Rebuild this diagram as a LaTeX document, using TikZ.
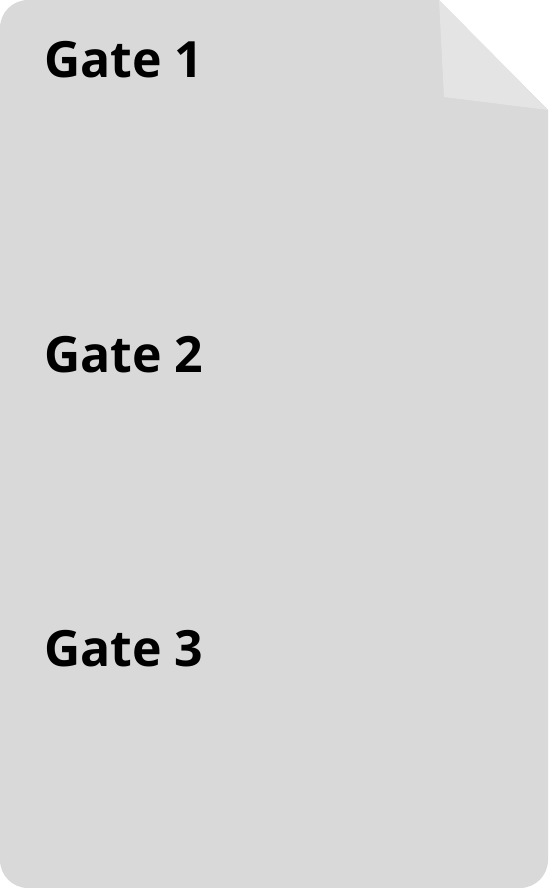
\documentclass[tikz,border=0pt]{standalone}
\usepackage{fontspec}
\setmainfont{Open Sans}
\definecolor{pagefill}{HTML}{D9D9D9}
\definecolor{foldfill}{HTML}{E4E4E4}
\begin{document}
\begin{tikzpicture}[x=1pt,y=-1pt,
  gatelabel/.style={anchor=base west,inner sep=0pt,font=\fontsize{50}{60}\selectfont\bfseries,text=black}]
\useasboundingbox (0,0) rectangle (549,888);
\fill[pagefill] (0,28) arc[start angle=180,end angle=270,radius=28] -- (439,0) -- (548,110)
  -- (548,860) arc[start angle=0,end angle=90,radius=28] -- (28,888)
  arc[start angle=90,end angle=180,radius=28] -- cycle;
\fill[foldfill] (439,0) -- (444,97) -- (548,110) -- cycle;
\node[gatelabel] (g1) at (44,78) {Gate 1};
\node[gatelabel] (g2) at (44,372) {Gate 2};
\node[gatelabel] (g3) at (44,666) {Gate 3};
\end{tikzpicture}
\end{document}
